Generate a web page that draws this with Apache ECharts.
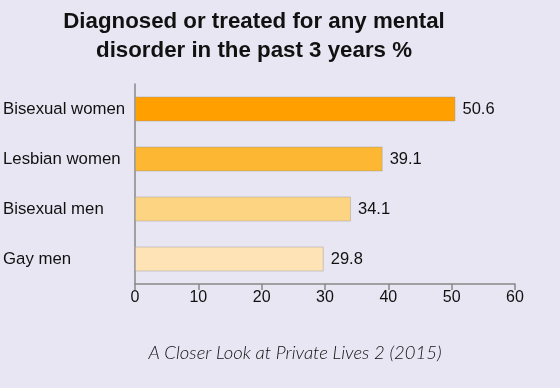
<!DOCTYPE html>
<html>
<head>
<meta charset="utf-8">
<script src="https://cdn.jsdelivr.net/npm/echarts@6/dist/echarts.min.js"></script>
<style>
html,body{margin:0;padding:0;background:#e8e6f2;}
#c{width:560px;height:388px;}
</style>
</head>
<body>
<div id="c"></div>
<script>
var categories = ["Bisexual women", "Lesbian women", "Bisexual men", "Gay men"];
var values = [50.6, 39.1, 34.1, 29.8];
var barColors = ["#ff9f00", "#fdb733", "#fdd582", "#fde3b5"];
var xTicks = [0, 10, 20, 30, 40, 50, 60];

var chart = echarts.init(document.getElementById('c'), null, {renderer: 'canvas'});
chart.setOption({
  backgroundColor: '#e8e6f2',
  animation: false,
  title: [{
    text: 'Diagnosed or treated for any mental\ndisorder in the past 3 years %',
    left: 249,
    textAlign: 'center',
    top: 2,
    textStyle: {fontFamily: 'Liberation Sans', fontWeight: 'bold', fontSize: 22.3, lineHeight: 29, color: '#111', align: 'center'}
  }, {
    text: 'A Closer Look at Private Lives 2 (2015)',
    left: 290,
    textAlign: 'center',
    top: 339,
    textStyle: {fontFamily: 'Lato', fontStyle: 'italic', fontWeight: 300, fontSize: 18.5, color: '#111'}
  }],
  grid: {left: 135, right: 45, top: 84, bottom: 104, containLabel: false},
  xAxis: {
    type: 'value',
    min: xTicks[0],
    max: xTicks[xTicks.length - 1],
    interval: 10,
    axisLine: {show: true, lineStyle: {color: '#888', width: 1.5}},
    axisTick: {show: true, length: 6, lineStyle: {color: '#888', width: 1.5}},
    splitLine: {show: false},
    axisLabel: {fontFamily: 'Liberation Sans', fontSize: 16, color: '#111', margin: 6}
  },
  yAxis: {
    type: 'category',
    data: categories,
    inverse: true,
    axisLine: {show: true, lineStyle: {color: '#888', width: 1.5}},
    axisTick: {show: false},
    axisLabel: {fontFamily: 'Liberation Sans', fontSize: 16.8, color: '#111', margin: 132, align: 'left'}
  },
  series: [{
    type: 'bar',
    data: values.map(function (v, i) {
      return {value: v, itemStyle: {color: barColors[i]}};
    }),
    barWidth: 25,
    itemStyle: {borderColor: 'rgba(150,150,150,0.45)', borderWidth: 1},
    label: {show: true, position: 'right', distance: 7, fontFamily: 'Liberation Sans', fontSize: 16.5, color: '#111'}
  }]
});
</script>
</body>
</html>
